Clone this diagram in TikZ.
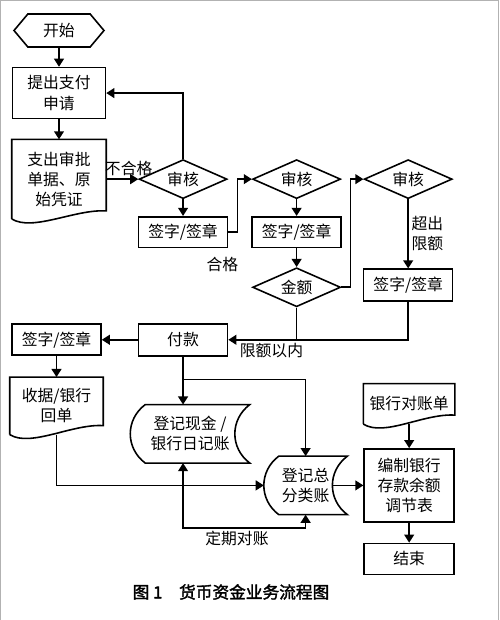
\documentclass[tikz,border=0pt]{standalone}
\usepackage{fontspec}
\setmainfont{Noto Sans CJK SC}
\newfontfamily\capfont{Noto Sans CJK SC}[FakeBold=2]
\usepackage{tikz}
\usetikzlibrary{positioning}
\usetikzlibrary{shapes.geometric, shapes.symbols, arrows.meta}
\tikzstyle{arrow} = [line width=0.9pt,->,>={Triangle[length=4.6pt,width=5.6pt]}]
\tikzset{
	flow/.style={line width=0.9pt, font=\fontsize{9}{11.5}\selectfont, align=center},
	box/.style={flow, draw, minimum width=1.78cm, minimum height=0.62cm, inner sep=1pt},
	check/.style={flow, draw, diamond, aspect=2.3, minimum width=1.76cm, minimum height=0.78cm, inner sep=0pt},
	startstop/.style={flow, draw, signal, signal to=west and east, signal pointer angle=100, minimum width=1.8cm, minimum height=0.66cm, inner sep=1pt},
	docbox/.style={flow, inner sep=1pt},
	storebox/.style={flow, minimum height=1.14cm, inner sep=1pt},
	lbl/.style={font=\fontsize{9}{11.5}\selectfont, inner sep=1.5pt, align=left}
}
% document shape: wavy bottom, right end raised by #2
\newcommand{\docshape}[2]{\draw[line width=0.9pt] (#1.south west) -- (#1.north west) -- (#1.north east) -- ([yshift=#2]#1.south east) .. controls +(-31,-2) and +(21,13) .. (#1.south west);}
% stored data shape
\newcommand{\storeshape}[1]{\draw[line width=0.9pt] ([xshift=0.3cm]#1.north west) -- (#1.north east) .. controls +(-20,15) and +(-20,-15) .. (#1.south east) -- ([xshift=0.3cm]#1.south west) .. controls +(-20,-15) and +(-20,15) .. ([xshift=0.3cm]#1.north west) -- cycle;}

\begin{document}
\begin{tikzpicture}[x=0.02cm,y=-0.02cm]
	\useasboundingbox (0,0) rectangle (500,620);
	\draw[gray!60] (0.5,620) -- (0.5,0.5) -- (498.5,0.5) -- (498.5,620);

	%Nodes
	\node[startstop] (start) at (59,30.5) {开始};
	\node[box, minimum width=1.86cm, minimum height=1.02cm, below=0.38cm of start] (apply) {提出支付\\申请};
	\node[docbox, minimum width=1.86cm, minimum height=1.56cm, below=0.4cm of apply] (doc1) {支出审批\\单据、原\\始凭证};

	\node[check, right=0.64cm of doc1] (check1) {审核};
	\node[box, below=0.33cm of check1] (sign1) {签字/签章};
	\node[check, right=0.48cm of check1] (check2) {审核};
	\node[box, below=0.33cm of check2] (sign2) {签字/签章};
	\node[check, below=0.37cm of sign2] (amount) {金额};
	\node[check, right=0.44cm of check2] (check3) {审核};
	\node[box, minimum height=0.64cm, below=1.38cm of check3] (sign3) {签字/签章};

	\node[box, minimum height=0.64cm, below=1.49cm of sign1] (pay) {付款};
	\node[box, left=0.72cm of pay] (sign4) {签字/签章};
	\node[docbox, minimum width=1.84cm, minimum height=1.12cm, below=0.42cm of sign4] (doc2) {收据/银行\\回单};

	\node[storebox, minimum width=2.36cm, below=0.96cm of pay, xshift=0.14cm] (cash) {登记现金 /\\银行日记账};
	\node[storebox, minimum width=1.64cm, below right=-0.14cm and 0.28cm of cash] (ledger) {登记总\\分类账};
	\node[box, minimum width=1.8cm, minimum height=1.46cm, right=0.32cm of ledger] (recon) {编制银行\\存款余额\\调节表};
	\node[docbox, minimum width=1.8cm, minimum height=0.78cm, above=0.48cm of recon] (stmt) {银行对账单};
	\node[box, minimum width=1.8cm, below=0.4cm of recon] (finish) {结束};

	\node[lbl] (passlbl) at ([shift={(-6,15.5)}]sign1.south east) {合格};
	\node[font=\capfont\fontsize{9.5}{12}\selectfont] (caption) at (231,592) {图 1\quad 货币资金业务流程图};

	%Shapes
	\docshape{doc1}{0.16cm}
	\docshape{doc2}{0.18cm}
	\docshape{stmt}{0.18cm}
	\storeshape{cash}
	\storeshape{ledger}

	%Lines
	\draw[arrow] (start) -- (apply);
	\draw[arrow] (apply) -- (doc1);
	\draw[arrow] (doc1) -- node[lbl, above, pos=0.7] (faillbl) {不合格} (check1);
	\draw[arrow] (check1.north) |- (apply.east);
	\draw[arrow] (check1) -- (sign1);
	\draw[arrow] (sign1.east) -- ++(9,0) |- (check2.west);
	\draw[arrow] (check2) -- (sign2);
	\draw[arrow] (sign2) -- (amount);
	\draw[arrow] (amount.east) -- ++(9,0) |- (check3.west);
	\draw[arrow] (check3) -- node[lbl, right] (overlbl) {超出\\限额} (sign3);
	\draw[arrow] (sign3.south) |- node[lbl, below, pos=0.88] (withinlbl) {限额以内} (pay.east);
	\draw[line width=0.9pt] (amount.south) -- (amount.south |- pay.east);

	\draw[arrow] (pay) -- (sign4);
	\draw[arrow] (sign4) -- (doc2);
	\draw[arrow] (doc2.south) |- (ledger.west);
	\draw[arrow] (pay) -- (pay |- cash.north);
	\draw[arrow] (pay.south) -- ++(0,23) -| (ledger.north);
	\draw[arrow, <->] (pay.south |- cash.south) -- ++(0,65) -| node[lbl, below, pos=0.22] (checklbl) {定期对账} (ledger.south);

	\draw[arrow] ([xshift=-0.3cm]ledger.east) -- (recon.west);
	\draw[arrow] (stmt) -- (recon);
	\draw[arrow] (recon) -- (finish);
\end{tikzpicture}
\end{document}
